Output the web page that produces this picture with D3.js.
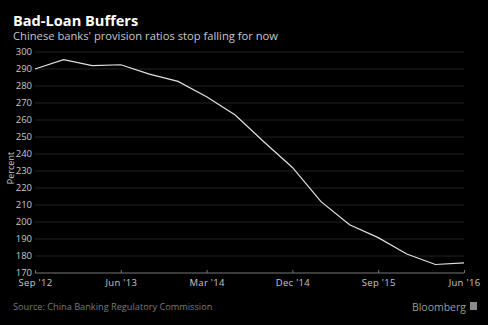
<!DOCTYPE html>
<html>
<head>
<meta charset="utf-8">
<script src="https://cdn.jsdelivr.net/npm/d3@7"></script>
<style>
  html, body { margin: 0; padding: 0; background: #000; }
  svg { display: block; }
  text { font-family: "Open Sans", "DejaVu Sans", sans-serif; }
</style>
</head>
<body>
<div id="chart"></div>
<script>
// quarterly provision coverage ratio, Sep 2012 - Jun 2016
const quarters = ["Sep '12", "Dec '12", "Mar '13", "Jun '13", "Sep '13", "Dec '13",
  "Mar '14", "Jun '14", "Sep '14", "Dec '14", "Mar '15", "Jun '15",
  "Sep '15", "Dec '15", "Mar '16", "Jun '16"]
const ratios = [290.0, 295.5, 292.0, 292.5, 287.0, 282.7, 273.7, 262.9,
  247.2, 232.1, 212.0, 198.4, 190.8, 181.2, 175.0, 176.0]
const xTickLabels = ["Sep '12", "Jun '13", "Mar '14", "Dec '14", "Sep '15", "Jun '16"]
const yTicks = [170, 180, 190, 200, 210, 220, 230, 240, 250, 260, 270, 280, 290, 300]

const width = 488, height = 325
const svg = d3.select('#chart').append('svg')
  .attr('width', width)
  .attr('height', height)

svg.append('rect').attr('width', width).attr('height', height).attr('fill', '#000')

const x = d3.scalePoint().domain(quarters).range([35, 464])
const y = d3.scaleLinear().domain([170, 300]).range([273, 52])

// title and subtitle
svg.append('text')
  .attr('x', 13).attr('y', 26)
  .attr('fill', '#fff')
  .style('font-size', '14.6px').style('font-weight', 'bold')
  .text('Bad-Loan Buffers')
svg.append('text')
  .attr('x', 13).attr('y', 40)
  .attr('fill', '#c8c8c8')
  .style('font-size', '11.2px')
  .text("Chinese banks' provision ratios stop falling for now")

// grid
svg.append('g')
  .selectAll('line')
  .data(yTicks.filter((d) => d > 170))
  .enter().append('line')
  .attr('x1', 35).attr('x2', 464)
  .attr('y1', (d) => y(d)).attr('y2', (d) => y(d))
  .attr('stroke', '#232323')
  .attr('stroke-width', 1)

// y axis labels
const yAxis = svg.append('g')
  .attr('transform', 'translate(32,0)')
  .call(d3.axisLeft(y).tickValues(yTicks).tickSize(0).tickPadding(0))
yAxis.select('.domain').remove()
yAxis.selectAll('text')
  .attr('fill', '#c8c8c8')
  .attr('dy', '0.3em')
  .style('font-size', '9.5px')
  .style('font-family', '"Open Sans", sans-serif')

svg.append('text')
  .attr('transform', 'translate(14,168) rotate(-90)')
  .attr('text-anchor', 'middle')
  .attr('fill', '#c8c8c8')
  .style('font-size', '9px')
  .text('Percent')

// x axis
const xAxis = svg.append('g')
  .attr('transform', 'translate(0,273)')
  .call(d3.axisBottom(x).tickValues(xTickLabels).tickSize(-3))
xAxis.select('.domain').attr('stroke', '#777').attr('d', 'M35,0H464')
xAxis.selectAll('.tick line').attr('stroke', '#777')
xAxis.selectAll('text')
  .attr('y', 13)
  .attr('dy', 0)
  .attr('fill', '#c8c8c8')
  .style('font-size', '9.5px')
  .style('letter-spacing', '0.3px')
  .style('font-family', '"Open Sans", sans-serif')

// line
const line = d3.line()
  .x((d, i) => x(quarters[i]))
  .y((d) => y(d))
svg.append('path')
  .datum(ratios)
  .attr('d', line)
  .attr('fill', 'none')
  .attr('stroke', '#e0e0e0')
  .attr('stroke-width', 1.2)

// footer
svg.append('text')
  .attr('x', 13).attr('y', 310)
  .attr('fill', '#7a7a7a')
  .style('font-size', '9.2px')
  .text('Source: China Banking Regulatory Commission')
svg.append('text')
  .attr('x', 466).attr('y', 311)
  .attr('text-anchor', 'end')
  .attr('fill', '#9a9a9a')
  .style('font-size', '10.5px')
  .text('Bloomberg')
svg.append('rect')
  .attr('x', 470).attr('y', 302).attr('width', 7).attr('height', 8)
  .attr('fill', '#8a8a8a')
</script>
</body>
</html>
